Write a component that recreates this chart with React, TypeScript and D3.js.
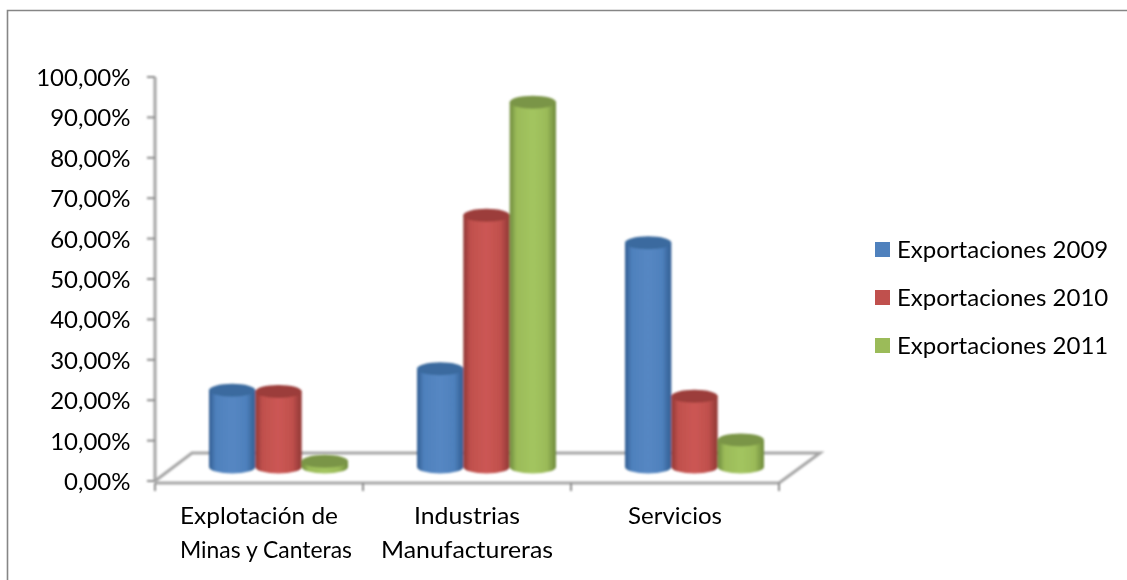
import React from "react";
import * as d3 from "d3";

const categories = ["Explotación de|Minas y Canteras", "Industrias|Manufactureras", "Servicios"];
const seriesNames = ["Exportaciones 2009", "Exportaciones 2010", "Exportaciones 2011"];
const values2009 = [19, 24.3, 55.5];
const values2010 = [18.7, 62.3, 17.5];
const values2011 = [1.4, 90.3, 6.7];
const tickValues = [0, 10, 20, 30, 40, 50, 60, 70, 80, 90, 100];
const mainColors = ["#4f81bd", "#c0504d", "#9bbb59"];
const lightColors = ["#5587c3", "#cc5754", "#a3c55f"];
const darkColors = ["#315e92", "#8f3633", "#6f8b3d"];
const topColors = ["#3b6a9f", "#9c3d3a", "#7a9546"];

const FONT = "Lato, Carlito, 'Open Sans', sans-serif";
const AXIS = "#a6a6a6";
const LINE_WIDTHS: Record<string, number> = {
  "Explotación de": 158,
  "Minas y Canteras": 172,
  Industrias: 106,
  Manufactureras: 172,
  Servicios: 94,
};

export default function App() {
  const x = d3.scaleBand<string>().domain(categories).range([155, 779]);
  const y = d3.scaleLinear().domain([0, 100]).range([481, 77]);
  const inner = d3.scaleBand<string>().domain(seriesNames).range([0, 139]);
  const depthX = 18.5, depthY = -14;
  const allValues = [values2009, values2010, values2011];
  const fmt = (v: number) => v.toFixed(2).replace(".", ",") + "%";
  const rx = inner.bandwidth() / 2;
  const ry = 6.5;

  return (
    <svg width={1127} height={580} style={{ position: "absolute", left: 0, top: 0, background: "#fff" }}>
      <defs>
        <filter id="soft" x="-10%" y="-10%" width="120%" height="120%">
          <feGaussianBlur stdDeviation="0.8" />
        </filter>
        <filter id="softText" x="-5%" y="-5%" width="110%" height="110%">
          <feGaussianBlur stdDeviation="0.35" />
        </filter>
        {seriesNames.map((_, i) => (
          <linearGradient id={`cyl${i}`} key={i} x1="0" x2="1" y1="0" y2="0">
            <stop offset="0" stopColor={darkColors[i]} />
            <stop offset="0.15" stopColor={mainColors[i]} />
            <stop offset="0.5" stopColor={lightColors[i]} />
            <stop offset="0.8" stopColor={mainColors[i]} />
            <stop offset="1" stopColor={darkColors[i]} />
          </linearGradient>
        ))}
      </defs>

      <path d="M7.5,580V10.5H1127" fill="none" stroke="#868686" strokeWidth={1.6} />

      <g filter="url(#soft)" fill="none" stroke={AXIS}>
        <line x1={155} x2={155} y1={y(100)} y2={y(0)} strokeWidth={3} />
        {tickValues.map((t) => (
          <line key={t} x1={147} x2={155} y1={y(t)} y2={y(t)} strokeWidth={2} stroke="#8c8c8c" />
        ))}
        <path d={`M155,${y(0)}L${155 + 2 * depthX},${y(0) + 2 * depthY}H${779 + 2 * depthX + 4}L779,${y(0) + 2}`} strokeWidth={3} />
        <line x1={155} x2={779} y1={y(0) + 2} y2={y(0) + 2} strokeWidth={3} />
        {[155, ...categories.map((c) => (x(c) as number) + x.bandwidth())].map((tx) => (
          <line key={tx} x1={tx} x2={tx} y1={y(0) + 2} y2={y(0) + 10} strokeWidth={2} stroke="#8c8c8c" />
        ))}
      </g>

      <g filter="url(#soft)">
        {categories.map((c, ci) =>
          seriesNames.map((s, si) => {
            const left = (x(c) as number) + x.bandwidth() / 2 - 139 / 2 + depthX + (inner(s) as number) + 1;
            const cx = left + rx;
            const base = y(0) + depthY;
            const top = base - (y(0) - y(allValues[si][ci]));
            return (
              <g key={s + c}>
                <path
                  d={`M${left},${top}V${base}A${rx},${ry} 0 0 0 ${left + 2 * rx},${base}V${top}Z`}
                  fill={`url(#cyl${si})`}
                />
                <ellipse cx={cx} cy={top} rx={rx} ry={ry} fill={topColors[si]} />
              </g>
            );
          })
        )}
      </g>

      <g filter="url(#softText)" fontFamily={FONT} fontSize={24} fill="#000">
        {tickValues.map((t) => (
          <text key={t} x={130.5} y={y(t) + 9} textAnchor="end">
            {fmt(t)}
          </text>
        ))}
        {categories.map((c, ci) =>
          c.split("|").map((line, li) => (
            <text
              key={line}
              x={ci === 0 ? 180 : (x(c) as number) + x.bandwidth() / 2}
              y={524 + li * 34}
              textAnchor={ci === 0 ? "start" : "middle"}
              textLength={LINE_WIDTHS[line]}
              lengthAdjust="spacingAndGlyphs"
            >
              {line}
            </text>
          ))
        )}
        {seriesNames.map((s, i) => (
          <text key={s} x={897} y={258 + i * 48}>
            {s}
          </text>
        ))}
      </g>
      {seriesNames.map((s, i) => (
        <rect key={s} x={875} y={242 + i * 48} width={15} height={15} fill={mainColors[i]} />
      ))}
    </svg>
  );
}
